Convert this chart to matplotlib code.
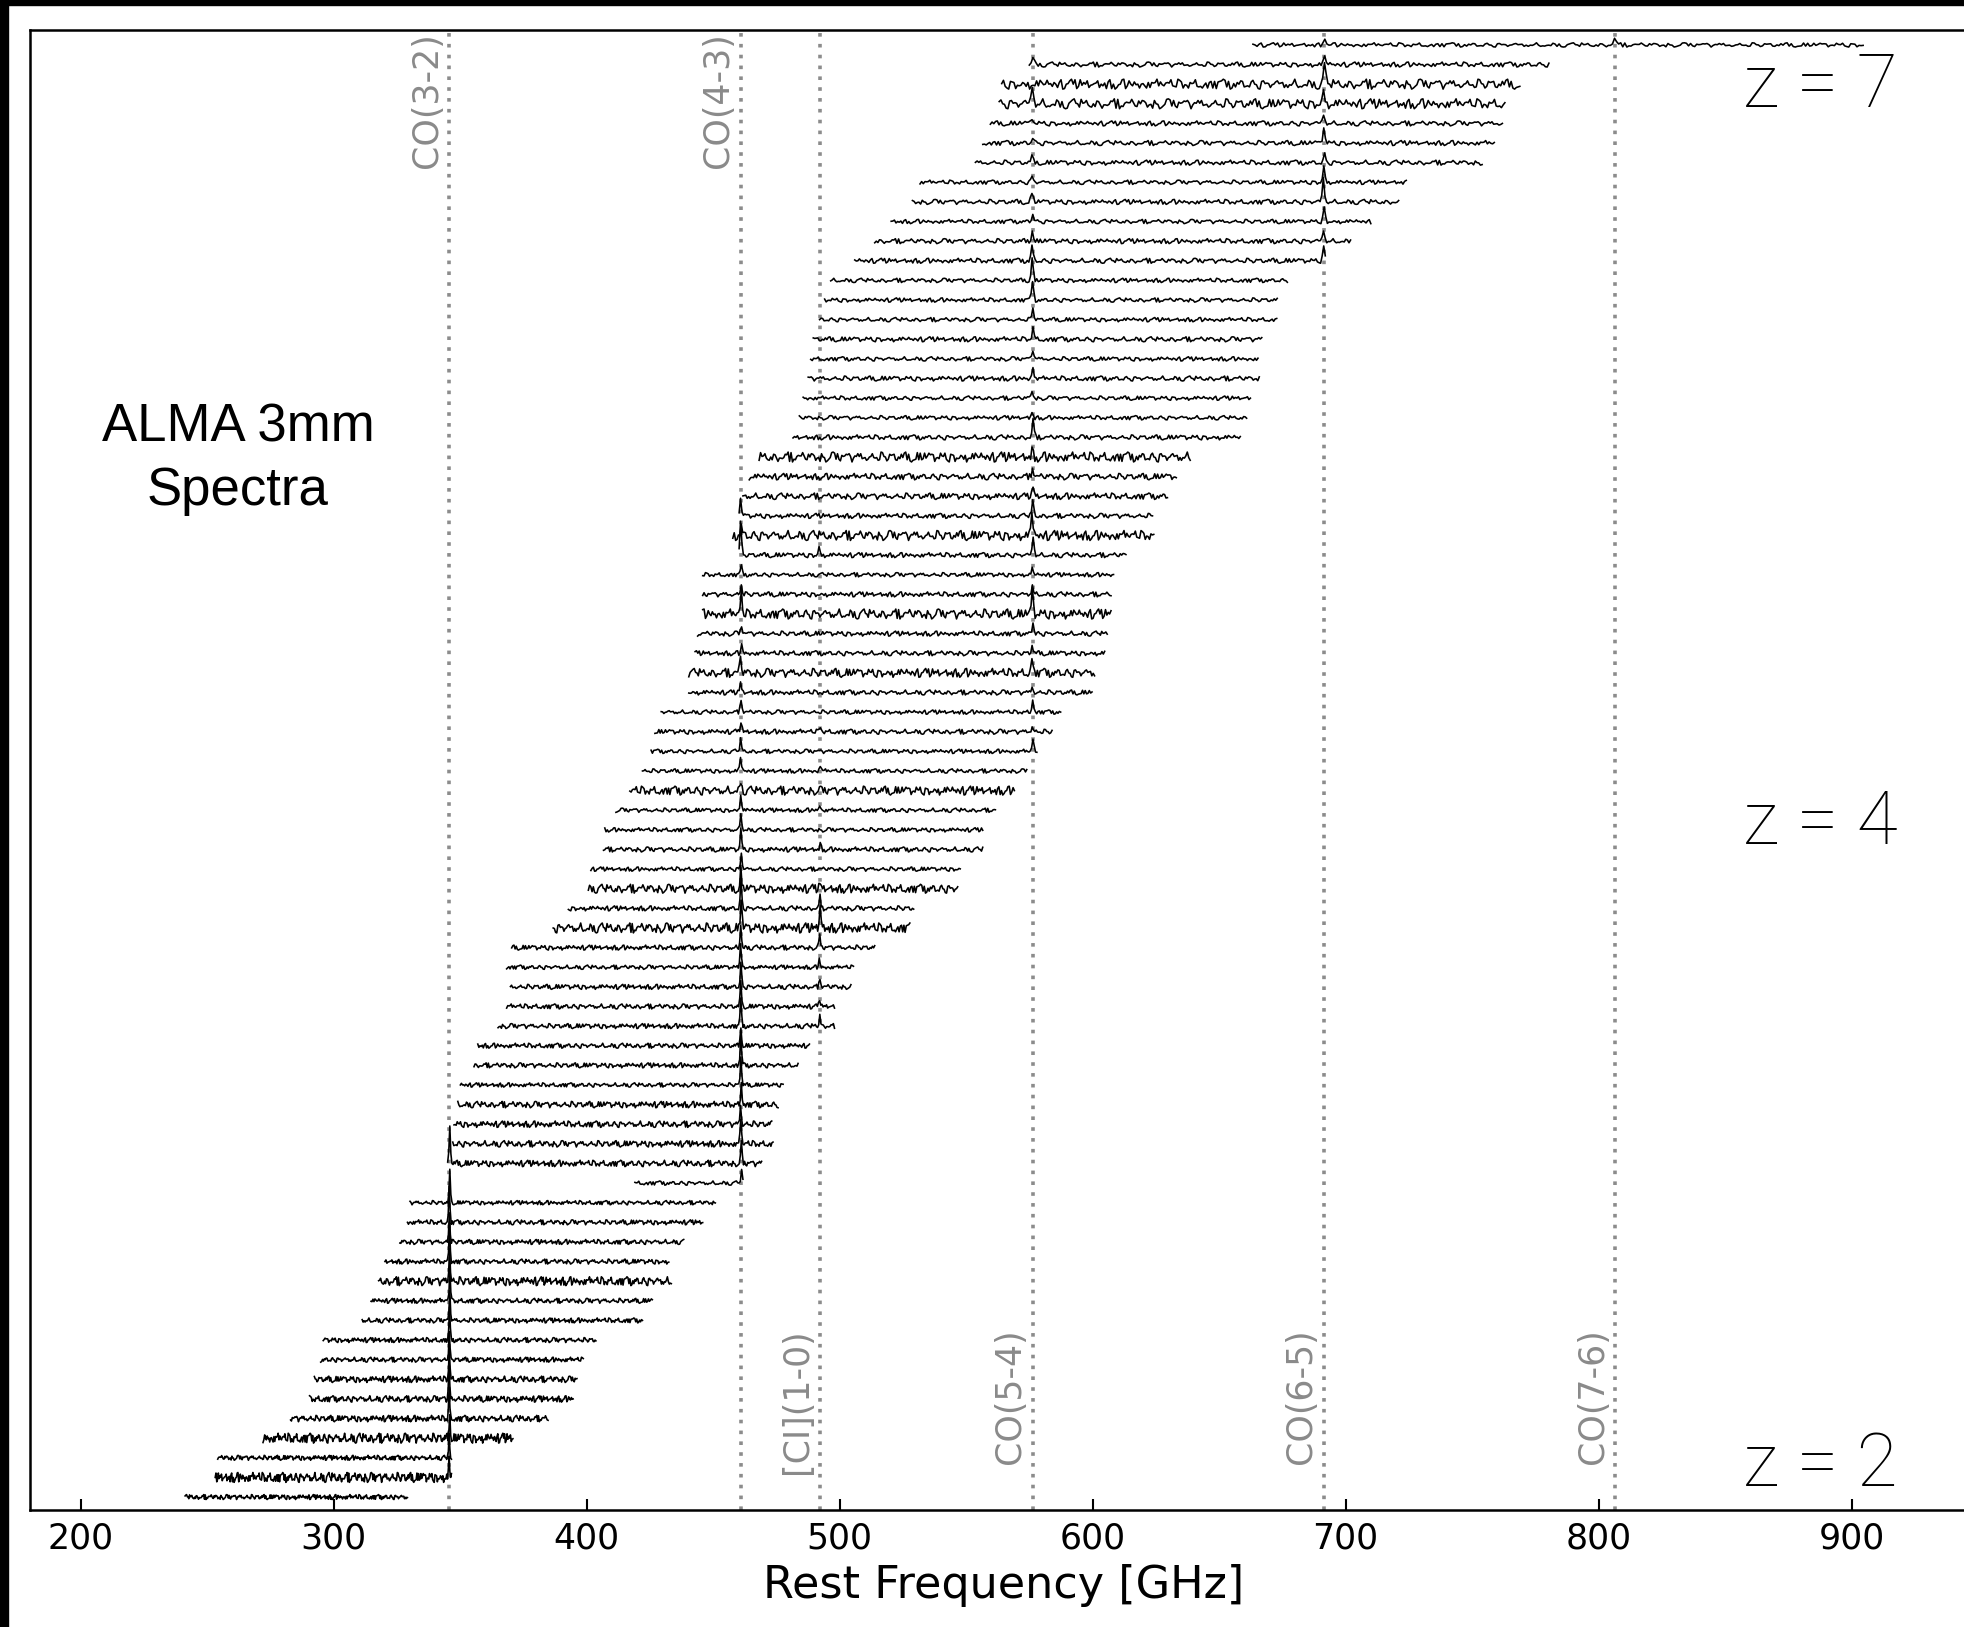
import numpy as np
import matplotlib
matplotlib.use("Agg")
import matplotlib.pyplot as plt
from matplotlib.patches import Rectangle

# rest-frame edges of each spectrum (GHz), listed top row first
ROW_START = [663.4, 575.0, 564.1, 563.1, 559.6, 556.6, 553.7, 531.8, 528.8, 520.4,
             513.9, 506.0, 496.5, 494.1, 492.1, 489.6, 488.6, 487.6, 485.6, 484.1,
             481.6, 468.2, 464.3, 461.8, 460.3, 457.8, 460.3, 445.9, 445.9, 445.9,
             443.9, 442.9, 440.4, 440.4, 429.5, 427.0, 425.5, 422.1, 417.1, 411.6,
             407.2, 406.7, 401.7, 400.7, 392.8, 386.8, 370.4, 368.4, 369.9, 368.4,
             365.0, 357.0, 355.5, 350.1, 349.1, 347.6, 347.1, 345.1, 419.1, 330.2,
             329.2, 326.2, 320.3, 317.8, 314.8, 311.3, 295.9, 294.9, 292.4, 290.5,
             283.0, 272.1, 254.2, 253.2, 241.3]
ROW_END = [904.6, 780.4, 768.9, 763.0, 762.0, 758.8, 754.0, 724.0, 721.0, 710.0,
           702.0, 692.0, 677.0, 673.0, 672.8, 666.9, 665.4, 665.9, 662.4, 660.9,
           658.4, 638.6, 633.1, 629.6, 623.7, 624.2, 613.2, 608.3, 607.3, 607.3,
           605.8, 604.8, 600.8, 599.8, 587.4, 584.0, 578.0, 574.0, 569.1, 561.6,
           556.6, 556.6, 547.7, 546.7, 529.3, 527.8, 513.9, 505.5, 504.5, 498.0,
           498.0, 488.1, 483.6, 477.7, 475.7, 473.2, 473.7, 469.2, 461.8, 450.9,
           445.9, 438.4, 432.5, 433.5, 426.0, 422.1, 403.7, 398.7, 396.2, 394.7,
           384.8, 370.9, 346.6, 346.6, 329.2]
# noise level of each row (fraction of the row spacing), top row first
ROW_NOISE = [0.12, 0.14, 0.28, 0.28, 0.14, 0.14, 0.14, 0.12, 0.14, 0.12,
             0.14, 0.14, 0.12, 0.12, 0.12, 0.14, 0.12, 0.14, 0.12, 0.12,
             0.14, 0.28, 0.18, 0.18, 0.14, 0.28, 0.14, 0.12, 0.14, 0.28,
             0.14, 0.14, 0.25, 0.14, 0.12, 0.14, 0.12, 0.12, 0.25, 0.12,
             0.12, 0.14, 0.12, 0.25, 0.14, 0.28, 0.14, 0.12, 0.14, 0.14,
             0.14, 0.14, 0.14, 0.12, 0.18, 0.18, 0.18, 0.18, 0.12, 0.12,
             0.14, 0.14, 0.14, 0.25, 0.14, 0.14, 0.14, 0.14, 0.18, 0.18,
             0.18, 0.28, 0.14, 0.28, 0.14]

# emission lines: name, rest frequency (GHz), label at top or bottom
LINE_NAMES = ["CO(3-2)", "CO(4-3)", "[CI](1-0)", "CO(5-4)", "CO(6-5)", "CO(7-6)"]
LINE_FREQ = [345.796, 461.041, 492.161, 576.268, 691.473, 806.652]
LINE_LABEL_TOP = [True, True, False, False, False, False]

# line peak heights per row (row index from top, 1-based -> height in row spacings)
PEAKS_CO32 = {58: 2.0, 60: 1.6, 61: 1.8, 62: 1.5, 63: 2.0, 64: 1.8, 65: 1.7, 66: 1.5,
              67: 1.6, 68: 1.5, 69: 1.7, 70: 1.8, 71: 1.6, 72: 1.4, 73: 1.2, 74: 1.0}
PEAKS_CO43 = {25: 0.8, 26: 0.5, 27: 1.6, 28: 0.4, 29: 0.5, 30: 1.0, 31: 0.4, 32: 0.4,
              33: 0.8, 34: 0.5, 35: 0.7, 36: 0.5, 37: 0.6, 38: 0.7, 39: 0.5, 40: 0.8,
              41: 0.9, 42: 1.0, 43: 0.8, 44: 1.0, 45: 1.4, 46: 1.5, 47: 1.2, 48: 1.3,
              49: 1.2, 50: 1.2, 51: 1.3, 52: 1.0, 53: 1.6, 54: 1.5, 55: 1.2, 56: 1.0,
              57: 1.3, 58: 1.0, 59: 0.6}
PEAKS_CI = {27: 0.4, 36: 0.3, 38: 0.3, 40: 0.3, 42: 0.3, 44: 0.3, 45: 0.6, 46: 1.2,
            47: 0.6, 48: 0.4, 49: 0.5, 50: 0.4, 51: 0.6, 52: 0.3}
PEAKS_CO54 = {2: 0.4, 4: 1.0, 5: 0.3, 6: 0.3, 7: 0.3, 8: 0.3, 9: 0.5, 10: 0.4,
              11: 0.6, 12: 0.8, 13: 1.2, 14: 1.0, 15: 0.6, 16: 0.6, 17: 0.5, 18: 0.6,
              19: 0.4, 20: 0.3, 21: 0.9, 22: 0.4, 23: 0.5, 24: 0.5, 25: 0.8, 26: 1.2,
              27: 1.0, 28: 0.3, 29: 0.5, 30: 1.2, 31: 0.6, 32: 0.4, 33: 0.9, 34: 0.3,
              35: 0.7, 36: 0.3, 37: 0.6}
PEAKS_CO65 = {1: 0.4, 2: 0.4, 3: 0.9, 4: 0.7, 5: 0.5, 6: 0.8, 7: 0.4, 8: 0.8,
              9: 1.2, 10: 0.7, 11: 0.6, 12: 0.7}
PEAKS_CO76 = {1: 0.35}
PEAKS = [PEAKS_CO32, PEAKS_CO43, PEAKS_CI, PEAKS_CO54, PEAKS_CO65, PEAKS_CO76]

# channel-to-channel noise texture, typed by hand
NOISE = [0.3, -0.5, 0.1, 0.8, -0.2, -0.7, 0.4, 0.0, -0.3, 0.6, -0.9, 0.2, 0.5, -0.1,
         -0.6, 0.7, 0.1, -0.4, 0.9, -0.8, 0.0, 0.3, -0.2, 0.6, -0.5, -0.1, 0.4, -0.7,
         0.8, 0.2, -0.3, 0.1, -0.6, 0.5, 0.0, -0.9, 0.7, -0.2, 0.3, -0.4, 0.6, 0.1,
         -0.8, 0.4, -0.1, 0.2, -0.5, 0.9, -0.3, 0.0, 0.5, -0.6, 0.2, -0.2, 0.7, -0.7,
         0.1, 0.4, -0.4, 0.8, -0.1, -0.5, 0.3, 0.6, -0.8, 0.0, 0.2, -0.3, 0.5, -0.6,
         0.9, -0.2, 0.1, -0.4, 0.7, -0.9, 0.3, 0.0, -0.1, 0.6, -0.5, 0.4, -0.7, 0.2,
         0.8, -0.3, -0.1, 0.5, -0.6, 0.1, 0.3, -0.8, 0.7, -0.2, 0.0, 0.4, -0.5, 0.9,
         -0.4, 0.2, -0.1, 0.6, -0.7, 0.3, -0.3, 0.8, 0.1, -0.6, 0.5, -0.9, 0.0, 0.4,
         -0.2, 0.7, -0.5, 0.2, -0.8, 0.6, -0.1, 0.3, -0.4, 0.9, -0.6, 0.1, 0.5, -0.3,
         0.0, -0.7, 0.8, -0.2, 0.4, -0.5, 0.2, 0.6, -0.9, 0.1, -0.1, 0.7, -0.4, 0.3,
         -0.6, 0.5, 0.0, -0.8, 0.9, -0.3, 0.2, -0.2, 0.4, -0.7, 0.6, 0.1, -0.5, 0.8,
         -0.1, 0.3, -0.4, 0.0]
PROFILE = [0.25, 1.0, 0.3]

REDSHIFT_LABELS = ["z = 7", "z = 4", "z = 2"]

N_CHAN = 300          # channels across a full 3mm band
BAND_RATIO = 0.366    # fractional width of the band (end / start - 1)
W, H = 1964, 1627


def spectrum(i):
    texture = np.concatenate([NOISE, -np.array(NOISE[::-1])])
    start, end = ROW_START[i], ROW_END[i]
    nchan = max(20, int(round(N_CHAN * (end / start - 1) / BAND_RATIO)))
    freq = np.linspace(start, end, nchan)
    idx = 7 * np.arange(nchan) + 53 * i
    flux = np.take(texture, idx, mode="wrap") * ROW_NOISE[i]
    for f0, peaks in zip(LINE_FREQ, PEAKS):
        amp = peaks.get(i + 1, 0.0)
        if amp and freq[0] - 1 <= f0 <= freq[-1] + 1:
            j = int(np.argmin(np.abs(freq - f0)))
            for k, p in enumerate(PROFILE):
                jj = j + k - len(PROFILE) // 2
                if 0 <= jj < nchan:
                    flux[jj] += amp * p
    return freq, flux


def main():
    fig = plt.figure(figsize=(W / 100, H / 100), dpi=100)
    fig.patch.set_facecolor("white")
    fig.add_artist(Rectangle((0, 0), 8 / W, 1, transform=fig.transFigure,
                             color="black", zorder=0))
    fig.add_artist(Rectangle((0, 1 - 5 / H), 1, 5 / H, transform=fig.transFigure,
                             color="black", zorder=0))

    ax = fig.add_axes([30 / W, 117 / H, 1948 / W, 1480 / H])
    n = len(ROW_START)
    for i in range(n):
        freq, flux = spectrum(i)
        ax.plot(freq, flux + (n - 1 - i), color="black", lw=1.15, zorder=3)

    trans = ax.get_xaxis_transform()
    for name, f0, top in zip(LINE_NAMES, LINE_FREQ, LINE_LABEL_TOP):
        ax.axvline(f0, color="#8c8c8c", lw=2.6, ls=(0, (1, 2.0)), zorder=1)
        ax.text(f0 - 2.2, 0.9985 if top else 0.123, name, transform=trans,
                rotation=90, ha="right", va="top", fontsize=25, color="#8a8a8a")

    ax.set_xlim(180, 950)
    ax.set_ylim(-0.66, n - 1 + 0.76)
    ax.set_xticks(np.arange(200, 901, 100))
    ax.set_yticks([])
    ax.tick_params(axis="x", direction="in", length=8, width=1.5, pad=8.5,
                   labelsize=25, top=False)
    for sp in ax.spines.values():
        sp.set_linewidth(1.8)
    ax.set_xlabel("Rest Frequency [GHz]", fontsize=32, labelpad=6)

    fig.text(238 / W, 1 - 459 / H, "ALMA 3mm\nSpectra", ha="center", va="center",
             fontsize=38, family="Liberation Sans", linespacing=1.35)
    for label, base in zip(REDSHIFT_LABELS, [107, 844, 1486]):
        fig.text(1743 / W, 1 - base / H, label, ha="left", va="baseline",
                 fontsize=54, family="Roboto", fontweight="light")

    fig.savefig("out.png", dpi=100)
    plt.close(fig)


if __name__ == "__main__":
    main()
